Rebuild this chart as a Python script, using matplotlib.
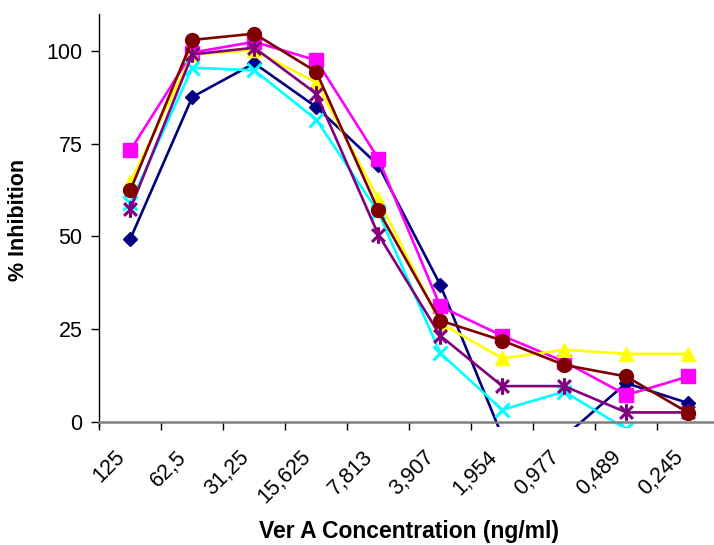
import matplotlib
matplotlib.use("Agg")
import matplotlib.pyplot as plt
from matplotlib.path import Path
from matplotlib.transforms import ScaledTranslation

plt.rcParams['font.family'] = ['Liberation Sans', 'DejaVu Sans']

concentrations = ["125", "62,5", "31,25", "15,625", "7,813", "3,907",
                  "1,954", "0,977", "0,489", "0,245"]

series_navy = [49.3, 87.6, 96.7, 84.9, 69.2, 36.9, -4.0, -4.0, 10.4, 5.0]
series_magenta = [73.2, 99.6, 102.5, 97.5, 71.0, 31.1, 23.2, 16.2, 7.2, 12.2]
series_yellow = [64.6, 99.1, 100.2, 91.5, 60.1, 26.6, 17.1, 19.4, 18.3, 18.3]
series_cyan = [59.0, 95.5, 94.8, 81.5, 56.5, 18.5, 3.2, 8.1, -2.0, -6.0]
series_purple = [57.4, 99.1, 100.9, 88.5, 50.5, 23.2, 9.6, 9.6, 2.5, 2.5]
series_maroon = [62.4, 103.0, 104.7, 94.4, 57.0, 27.3, 21.9, 15.3, 12.2, 2.4]

# excel style "star" marker: an x with a vertical bar through it
star = Path([(-1, -1), (1, 1), (-1, 1), (1, -1), (0, -1.3), (0, 1.3)],
            [Path.MOVETO, Path.LINETO, Path.MOVETO, Path.LINETO, Path.MOVETO, Path.LINETO])

styles = [
    (series_navy, "#000080", "D", 7.3),
    (series_magenta, "#FF00FF", "s", 9.5),
    (series_yellow, "#FFFF00", "^", 10.5),
    (series_cyan, "#00FFFF", "x", 9.5),
    (series_purple, "#800080", star, 12),
    (series_maroon, "#800000", "o", 10),
]

fig = plt.figure(figsize=(7.14, 5.45), dpi=100)
ax = fig.add_axes([99.3 / 714, 1 - 426.7 / 545, 620 / 714, 412.7 / 545])

x = list(range(len(concentrations)))
for vals, col, mk, ms in styles:
    thin = mk == "x" or mk is star
    ax.plot(x, vals, color=col, lw=1.9, marker=mk, ms=ms,
            mfc=col, mec=col, mew=2.2 if thin else 1)

ax.set_xlim(-0.5, len(concentrations) - 0.5)
ax.set_ylim(-1.35, 110)

for s in ["top", "right"]:
    ax.spines[s].set_visible(False)
ax.spines["bottom"].set_position(("data", 0))
ax.spines["bottom"].set_color("#808080")
ax.spines["bottom"].set_linewidth(1.8)
ax.spines["left"].set_linewidth(1.0)

ax.set_yticks([0, 25, 50, 75, 100])
ax.tick_params(axis="y", direction="out", length=6, width=1, labelsize=15.5, pad=6)

ax.set_xticks(x)
ax.set_xticklabels(concentrations, rotation=45, ha="right", va="top",
                   rotation_mode="anchor", fontsize=15.5)
ax.set_xticks([i - 0.5 for i in range(len(concentrations) + 1)], minor=True)
ax.tick_params(axis="x", which="major", length=0, pad=18)
ax.tick_params(axis="x", which="minor", direction="out", length=6, width=1)
shift = ScaledTranslation(-16 / 100, 0, fig.dpi_scale_trans)
for lab in ax.get_xticklabels():
    lab.set_transform(lab.get_transform() + shift)

ax.set_ylabel("% Inhibition", fontsize=15.5, fontweight="bold")
ax.yaxis.set_label_coords(-0.114, 0.5)
ax.set_xlabel("Ver A Concentration (ng/ml)", fontsize=16.5, fontweight="bold")
ax.xaxis.set_label_coords(0.5, -0.225)

fig.savefig("out.png", dpi=100)
